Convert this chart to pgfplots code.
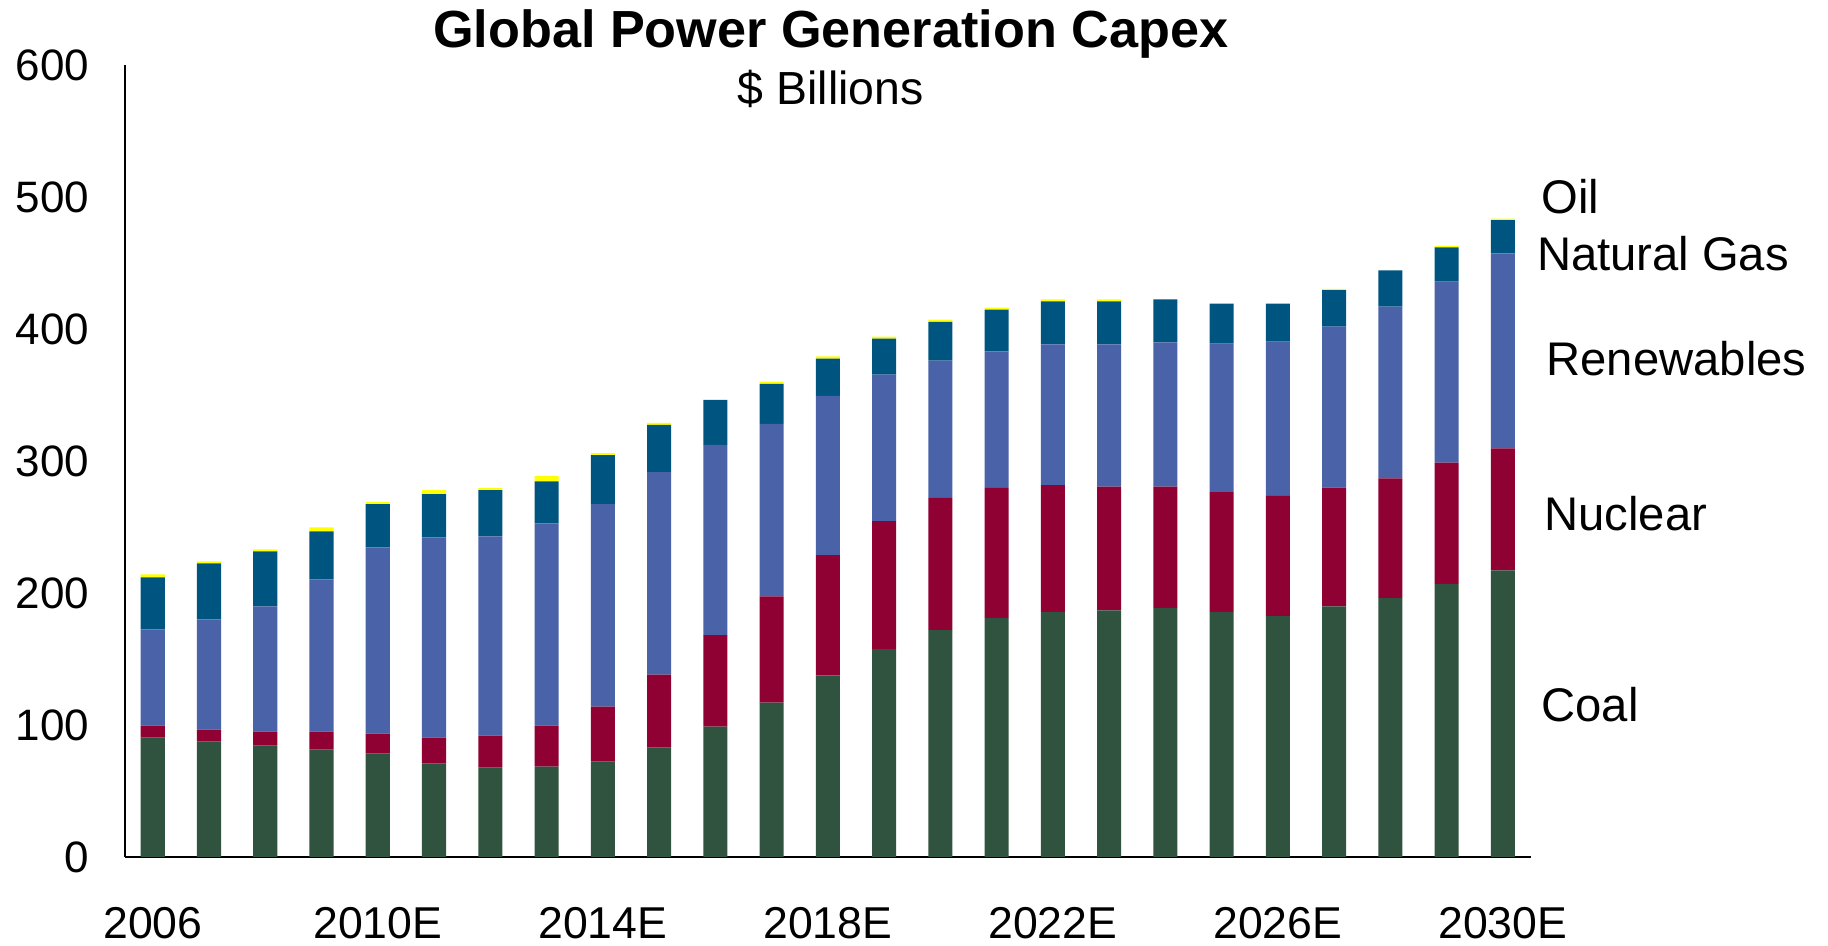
\documentclass[border=0pt]{standalone}
\usepackage{fontspec}
\setmainfont{Liberation Sans}
\usepackage{pgfplots}
\pgfplotsset{compat=1.18}
\usepackage{pgfplotstable}
\definecolor{coalc}{RGB}{47,83,63}
\definecolor{nucc}{RGB}{143,0,51}
\definecolor{renc}{RGB}{74,98,168}
\definecolor{gasc}{RGB}{0,84,128}
\definecolor{oilc}{RGB}{255,255,0}
\pgfplotstableread{
x coal nuclear renew gas oil
0 90.4 9.1 72.9 39.4 2.3
1 87.3 9.1 83.6 42.5 1.5
2 84.3 10.6 94.9 41.8 1.5
3 81.2 13.7 115.4 36.5 3.0
4 78.2 15.2 141.2 32.7 1.5
5 70.6 19.8 151.8 32.7 3.0
6 67.6 24.3 151.1 34.9 1.5
7 68.3 31.2 153.3 31.9 3.8
8 72.1 41.8 153.4 37.2 1.5
9 82.8 55.4 153.4 35.9 1.5
10 98.7 69.3 144.2 34.2 0
11 116.9 80.6 130.7 30.4 1.6
12 137.6 91.2 120.7 28.2 1.6
13 157.4 97.1 111.0 27.3 1.6
14 171.8 100.3 104.1 29.4 1.6
15 181.2 98.4 103.5 31.6 1.6
16 185.6 96.2 106.6 32.6 1.6
17 186.8 93.8 107.8 32.6 1.6
18 188.7 91.9 109.4 32.6 0
19 185.6 90.9 112.5 30.4 0
20 182.4 91.3 116.9 28.8 0
21 189.9 89.9 122.1 27.6 1.1
22 196.1 90.7 130.3 27.5 0
23 207.0 91.8 137.2 26.0 1.2
24 217.1 92.6 147.7 25.2 1.1
}\capextable
\begin{document}
\begin{tikzpicture}
\begin{axis}[
  scale only axis, width=703pt, height=395.7pt,
  xmin=-0.5, xmax=24.5, ymin=0, ymax=600,
  ybar stacked, bar width=0.43,
  axis x line=bottom, axis y line=left,
  axis line style={-, black, line width=0.8pt},
  xtick={0,4,...,24},
  xticklabels={2006,2010E,2014E,2018E,2022E,2026E,2030E},
  ytick={0,100,...,600},
  major tick length=0pt, tick style={draw=none},
  /pgf/number format/assume math mode=true,
  yticklabel style={font=\fontsize{22}{26}\selectfont, anchor=east, inner sep=0pt, xshift=-17.5pt},
  xticklabel style={font=\fontsize{22.3}{26}\selectfont, anchor=north, inner sep=0pt, yshift=-24.8pt},
  clip=false,
]
\addplot[fill=coalc, draw=none] table[x=x, y=coal]{\capextable};
\addplot[fill=nucc, draw=none] table[x=x, y=nuclear]{\capextable};
\addplot[fill=renc, draw=none] table[x=x, y=renew]{\capextable};
\addplot[fill=gasc, draw=none] table[x=x, y=gas]{\capextable};
\addplot[fill=oilc, draw=none] table[x=x, y=oil]{\capextable};
\path (axis cs:-2.717,-67.5) rectangle (axis cs:29.78,649.5);
\node[anchor=base, font=\bfseries\fontsize{26.1}{30}\selectfont] at (axis cs:12.05,613.5) {Global Power Generation Capex};
\node[anchor=base, font=\fontsize{23.2}{27}\selectfont] at (axis cs:12.05,570.5) {\$ Billions};
\node[anchor=west, inner sep=0pt, font=\fontsize{23.6}{28}\selectfont] at (axis cs:24.68,500.6) {Oil};
\node[anchor=west, inner sep=0pt, font=\fontsize{23.6}{28}\selectfont] at (axis cs:24.60,457.2) {Natural Gas};
\node[anchor=west, inner sep=0pt, font=\fontsize{23.6}{28}\selectfont] at (axis cs:24.77,377.7) {Renewables};
\node[anchor=west, inner sep=0pt, font=\fontsize{23.6}{28}\selectfont] at (axis cs:24.73,260.3) {Nuclear};
\node[anchor=west, inner sep=0pt, font=\fontsize{23.6}{28}\selectfont] at (axis cs:24.68,115.5) {Coal};
\end{axis}
\end{tikzpicture}
\end{document}
